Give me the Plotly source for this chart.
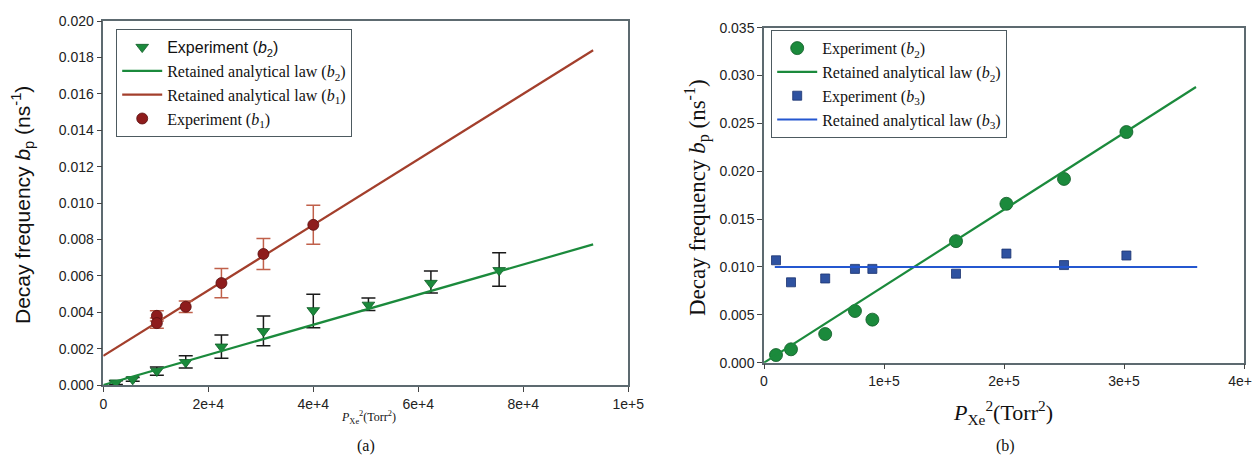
import numpy as np
import plotly.graph_objects as go

# page is 1260x463; the plot div sits at the default 8px body margin
PAGE_OFF = 8
W, H = 1260 - PAGE_OFF, 463 - 2 * PAGE_OFF

# ---------------- Panel (a) data ----------------
a_b2_x = [2400, 5600, 10200, 15700, 22500, 30500, 40000, 50500, 62400, 75400]
a_b2_y = [0.00013, 0.00031, 0.00077, 0.00125, 0.0021, 0.00295, 0.0041, 0.0044, 0.0056, 0.0063]
a_b2_err_plus = [0.0001, 0.0001, 0.00022, 0.00036, 0.00065, 0.00084, 0.00088, 0.00038, 0.00067, 0.00097]
a_b2_err_minus = [0.0001, 0.0001, 0.00024, 0.00031, 0.00063, 0.00079, 0.00095, 0.00030, 0.00055, 0.00088]

a_b1_x = [10200, 10200, 15700, 22500, 30500, 40000]
a_b1_y = [0.0038, 0.0034, 0.0043, 0.0056, 0.0072, 0.0088]
a_b1_err = [0.00028, 0.00028, 0.00032, 0.0008, 0.00085, 0.00107]

a_fit_x = [0, 93300]
a_fit_b2 = (8.28e-8, 0.0)      # slope, intercept
a_fit_b1 = (1.80e-7, 0.0016)

a_xtick_vals = [0, 20000, 40000, 60000, 80000, 100000]
a_xtick_text = ["0", "2e+4", "4e+4", "6e+4", "8e+4", "1e+5"]
a_ytick_vals = [0.000, 0.002, 0.004, 0.006, 0.008, 0.010, 0.012, 0.014, 0.016, 0.018, 0.020]

# ---------------- Panel (b) data ----------------
b_x = [10000, 22500, 51000, 75800, 90300, 160000, 202000, 250000, 302000]
b_b2_y = [0.0008, 0.0014, 0.0030, 0.0054, 0.0045, 0.0127, 0.0166, 0.0192, 0.0241]
b_b3_y = [0.0107, 0.0084, 0.0088, 0.0098, 0.0098, 0.0093, 0.0114, 0.0102, 0.0112]

b_fit_b2_x = [0, 360000]
b_fit_b2 = (8.0e-8, 0.0)
b_fit_b3_x = [9000, 361000]
b_fit_b3 = (0.0, 0.0100)

b_xtick_vals = [0, 100000, 200000, 300000, 400000]
b_xtick_text = ["0", "1e+5", "2e+5", "3e+5", "4e+5"]
b_ytick_vals = [0.000, 0.005, 0.010, 0.015, 0.020, 0.025, 0.030, 0.035]

# ---------------- styles ----------------
GREEN = "#1b8a3c"
BROWN_PT = "#8e1c1c"
BROWN_LINE = "#a33f2c"
BROWN_ERR = "#c0604a"
BLUE_PT = "#2f52a0"
BLUE_LINE = "#2457d0"
FRAME = "#5d6a70"
SERIF = "Liberation Serif, Times New Roman, serif"
SANS = "Liberation Sans, Arial, sans-serif"


def line_y(xs, params):
    s, b = params
    return [s * x + b for x in xs]


fig = go.Figure()

# Panel (a)
fig.add_trace(go.Scatter(
    x=a_b2_x, y=a_b2_y, mode="markers",
    name='<span style="font-family:Liberation Sans, Arial; font-size:16px">Experiment (<i>b</i><sub>2</sub>)</span>',
    marker=dict(symbol="triangle-down", size=11, color=GREEN, line=dict(color="#0f5a26", width=0.8)),
    error_y=dict(type="data", symmetric=False, array=a_b2_err_plus, arrayminus=a_b2_err_minus,
                 color="#1a1a1a", thickness=1.5, width=7),
    xaxis="x", yaxis="y", legend="legend"))
fig.add_trace(go.Scatter(
    x=a_fit_x, y=line_y(a_fit_x, a_fit_b2), mode="lines",
    name="Retained analytical law (<i>b</i><sub>2</sub>)",
    line=dict(color=GREEN, width=2.2), xaxis="x", yaxis="y", legend="legend"))
fig.add_trace(go.Scatter(
    x=a_fit_x, y=line_y(a_fit_x, a_fit_b1), mode="lines",
    name="Retained analytical law (<i>b</i><sub>1</sub>)",
    line=dict(color=BROWN_LINE, width=2.2), xaxis="x", yaxis="y", legend="legend"))
fig.add_trace(go.Scatter(
    x=a_b1_x, y=a_b1_y, mode="markers",
    name="Experiment (<i>b</i><sub>1</sub>)",
    marker=dict(symbol="circle", size=11, color=BROWN_PT, line=dict(color="#5a0f0f", width=0.8)),
    error_y=dict(type="data", array=a_b1_err, color=BROWN_ERR, thickness=1.5, width=7),
    xaxis="x", yaxis="y", legend="legend"))

# Panel (b)
fig.add_trace(go.Scatter(
    x=b_x, y=b_b2_y, mode="markers",
    name="Experiment (<i>b</i><sub>2</sub>)",
    marker=dict(symbol="circle", size=13, color=GREEN, line=dict(color="#0f5a26", width=0.8)),
    xaxis="x2", yaxis="y2", legend="legend2"))
fig.add_trace(go.Scatter(
    x=b_fit_b2_x, y=line_y(b_fit_b2_x, b_fit_b2), mode="lines",
    name="Retained analytical law (<i>b</i><sub>2</sub>)",
    line=dict(color=GREEN, width=2.2), xaxis="x2", yaxis="y2", legend="legend2"))
fig.add_trace(go.Scatter(
    x=b_x, y=b_b3_y, mode="markers",
    name="Experiment (<i>b</i><sub>3</sub>)",
    marker=dict(symbol="square", size=9, color=BLUE_PT, line=dict(color="#1c3470", width=0.8)),
    xaxis="x2", yaxis="y2", legend="legend2"))
fig.add_trace(go.Scatter(
    x=b_fit_b3_x, y=line_y(b_fit_b3_x, b_fit_b3), mode="lines",
    name="Retained analytical law (<i>b</i><sub>3</sub>)",
    line=dict(color=BLUE_LINE, width=2.2), xaxis="x2", yaxis="y2", legend="legend2"))


def px(x):
    return (x - PAGE_OFF) / W


def py(y):
    return 1 - (y - PAGE_OFF) / H


axis_common = dict(showgrid=False, zeroline=False, showline=True, mirror=True,
                   linecolor=FRAME, linewidth=1.5, ticks="outside", ticklen=5,
                   tickcolor="#444", tickwidth=1,
                   tickfont=dict(family=SANS, size=14, color="#222"))

fig.update_layout(
    width=W, height=H,
    margin=dict(l=0, r=0, t=0, b=0, autoexpand=False),
    paper_bgcolor="white", plot_bgcolor="white",
    showlegend=True,
    xaxis=dict(domain=[px(103.3), px(628.3)], range=[0, 100000], anchor="y",
               tickvals=a_xtick_vals, ticktext=a_xtick_text, **axis_common),
    yaxis=dict(domain=[py(385), py(21)], range=[0, 0.020], anchor="x",
               tickvals=a_ytick_vals, tickformat=".3f", **axis_common),
    xaxis2=dict(domain=[px(764), px(1244)], range=[0, 400000], anchor="y2",
                tickvals=b_xtick_vals, ticktext=b_xtick_text, **axis_common),
    yaxis2=dict(domain=[py(362.7), py(27.7)], range=[0, 0.035], anchor="x2",
                tickvals=b_ytick_vals, tickformat=".3f", **axis_common),
    legend=dict(x=px(116), y=py(29), xanchor="left", yanchor="top",
                bgcolor="white", bordercolor="#4d5a60", borderwidth=1.2,
                font=dict(family=SERIF, size=16, color="#111"),
                itemwidth=40, tracegroupgap=0),
    legend2=dict(x=px(771), y=py(30), xanchor="left", yanchor="top",
                 bgcolor="white", bordercolor="#4d5a60", borderwidth=1.2,
                 font=dict(family=SERIF, size=16, color="#111"),
                 itemwidth=40, tracegroupgap=0),
)

annotations = [
    # Panel (a) titles
    dict(x=px(22), y=py(205), text="Decay frequency <i>b</i><sub>p</sub> (ns<sup>-1</sup>)",
         textangle=-90, showarrow=False, font=dict(family=SANS, size=21, color="#111"),
         xref="paper", yref="paper", xanchor="center", yanchor="middle"),
    dict(x=px(368), y=py(417), text="<i>P</i><sub>Xe</sub><sup>2</sup>(Torr<sup>2</sup>)",
         showarrow=False, font=dict(family=SERIF, size=12, color="#111"),
         xref="paper", yref="paper", xanchor="center", yanchor="middle"),
    dict(x=px(366), y=py(446), text="(a)", showarrow=False,
         font=dict(family=SERIF, size=16, color="#111"),
         xref="paper", yref="paper", xanchor="center", yanchor="middle"),
    # Panel (b) titles
    dict(x=px(697), y=py(198), text="Decay frequency <i>b</i><sub>p</sub> (ns<sup>-1</sup>)",
         textangle=-90, showarrow=False, font=dict(family=SERIF, size=23, color="#111"),
         xref="paper", yref="paper", xanchor="center", yanchor="middle"),
    dict(x=px(1003), y=py(412), text="<i>P</i><sub>Xe</sub><sup>2</sup>(Torr<sup>2</sup>)",
         showarrow=False, font=dict(family=SERIF, size=22, color="#111"),
         xref="paper", yref="paper", xanchor="center", yanchor="middle"),
    dict(x=px(1005), y=py(446), text="(b)", showarrow=False,
         font=dict(family=SERIF, size=16, color="#111"),
         xref="paper", yref="paper", xanchor="center", yanchor="middle"),
]
fig.update_layout(annotations=annotations)

fig.write_html("out.html")
